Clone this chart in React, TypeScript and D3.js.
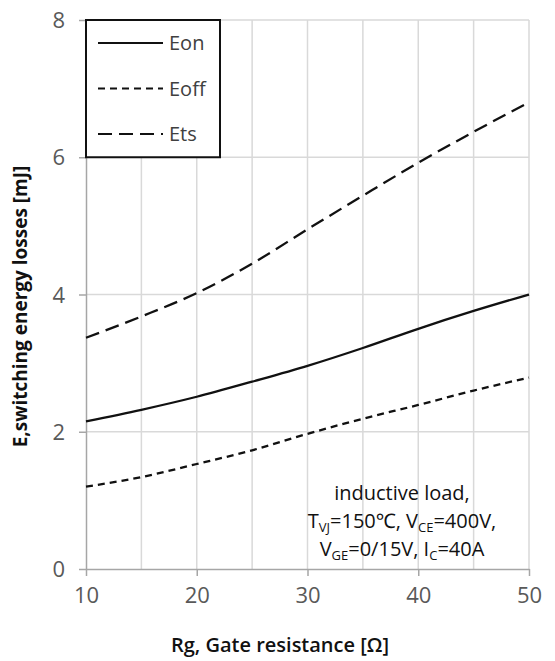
import React, { useEffect, useRef } from "react";
import * as d3 from "d3";

// gate resistance [ohm]
const rg = [10, 15, 20, 25, 30, 35, 40, 45, 50];
// switching energies [mJ]
const eon = [2.15, 2.32, 2.51, 2.73, 2.96, 3.22, 3.5, 3.76, 4.0];
const eoff = [1.2, 1.34, 1.53, 1.73, 1.97, 2.19, 2.39, 2.6, 2.79];
const ets = [3.37, 3.68, 4.02, 4.45, 4.95, 5.44, 5.92, 6.37, 6.8];

const xTicks = [10, 20, 30, 40, 50];
const yTicks = [0, 2, 4, 6, 8];

const series = [
  { name: "Eon", values: eon, dash: "none" },
  { name: "Eoff", values: eoff, dash: "7,5" },
  { name: "Ets", values: ets, dash: "14,7" },
];

export default function App() {
  const ref = useRef<SVGSVGElement>(null);

  useEffect(() => {
    const svg = d3.select(ref.current);
    svg.selectAll("*").remove();

    const m = { left: 86, right: 26, top: 20, bottom: 92 };
    const W = 555, H = 661;
    const x = d3.scaleLinear().domain([10, 50]).range([m.left, W - m.right]);
    const y = d3.scaleLinear().domain([0, 8]).range([H - m.bottom, m.top]);

    const font = "'Open Sans', 'Noto Sans', sans-serif";

    // grid
    svg.append("g").selectAll("line").data(d3.range(15, 51, 5)).join("line")
      .attr("x1", d => x(d)).attr("x2", d => x(d))
      .attr("y1", y(0)).attr("y2", y(8))
      .attr("stroke", "#d9d9d9").attr("stroke-width", 1.5);
    svg.append("g").selectAll("line").data(yTicks.slice(1)).join("line")
      .attr("x1", x(10)).attr("x2", x(50))
      .attr("y1", d => y(d)).attr("y2", d => y(d))
      .attr("stroke", "#d9d9d9").attr("stroke-width", 1.5);

    // axes
    const xAxis = svg.append("g").attr("transform", `translate(0,${y(0)})`)
      .call(d3.axisBottom(x).tickValues(xTicks).tickSize(7).tickPadding(11).tickSizeOuter(0));
    const yAxis = svg.append("g").attr("transform", `translate(${x(10)},0)`)
      .call(d3.axisLeft(y).tickValues(yTicks).tickSize(7).tickPadding(14).tickSizeOuter(0));
    [xAxis, yAxis].forEach(a => {
      a.select(".domain").attr("stroke", "#a6a6a6").attr("stroke-width", 1.5);
      a.selectAll(".tick line").attr("stroke", "#a6a6a6").attr("stroke-width", 1.5);
      a.selectAll("text").attr("fill", "#595959").attr("font-size", 22)
        .attr("font-family", font);
    });
    yAxis.selectAll("text").attr("dy", "0.35em");

    // curves
    const line = d3.line<number>()
      .x((_, i) => x(rg[i]))
      .y(d => y(d))
      .curve(d3.curveMonotoneX);
    svg.append("g").selectAll("path").data(series).join("path")
      .attr("d", d => line(d.values))
      .attr("fill", "none").attr("stroke", "#111")
      .attr("stroke-width", 2.3)
      .attr("stroke-dasharray", d => d.dash);

    // legend
    const lg = svg.append("g");
    lg.append("rect").attr("x", x(10)).attr("y", y(8))
      .attr("width", 134).attr("height", y(6) - y(8))
      .attr("fill", "white").attr("stroke", "#111").attr("stroke-width", 2);
    series.forEach((s, i) => {
      const ly = y(8) + 23 + i * 45.5;
      lg.append("line").attr("x1", 98).attr("x2", 163).attr("y1", ly).attr("y2", ly)
        .attr("stroke", "#111").attr("stroke-width", 2.2)
        .attr("stroke-dasharray", s.dash);
      lg.append("text").attr("x", 169).attr("y", ly).attr("dy", "0.35em")
        .attr("font-size", 20).attr("font-family", font).attr("fill", "#404040")
        .text(s.name);
    });

    // annotation
    const ax = 402;
    const ann = svg.append("g").attr("font-family", font).attr("font-size", 20)
      .attr("fill", "#111").attr("text-anchor", "middle");
    ann.append("text").attr("x", ax).attr("y", 500).text("inductive load,");
    const t2 = ann.append("text").attr("x", ax).attr("y", 528);
    t2.append("tspan").text("T");
    t2.append("tspan").attr("font-size", 13).attr("dy", 4).text("VJ");
    t2.append("tspan").attr("dy", -4).text("=150℃, V");
    t2.append("tspan").attr("font-size", 13).attr("dy", 4).text("CE");
    t2.append("tspan").attr("dy", -4).text("=400V,");
    const t3 = ann.append("text").attr("x", ax).attr("y", 556);
    t3.append("tspan").text("V");
    t3.append("tspan").attr("font-size", 13).attr("dy", 4).text("GE");
    t3.append("tspan").attr("dy", -4).text("=0/15V, I");
    t3.append("tspan").attr("font-size", 13).attr("dy", 4).text("C");
    t3.append("tspan").attr("dy", -4).text("=40A");

    // axis titles
    svg.append("text").attr("x", 280).attr("y", 652)
      .attr("text-anchor", "middle").attr("font-family", font)
      .attr("font-size", 20).attr("font-weight", 600).attr("fill", "#111")
      .text("Rg, Gate resistance [Ω]");
    svg.append("text")
      .attr("transform", `translate(27,${(y(0) + y(8)) / 2 + 12}) rotate(-90)`)
      .attr("text-anchor", "middle").attr("font-family", font)
      .attr("font-size", 19).attr("font-weight", 700).attr("fill", "#111")
      .text("E,switching energy losses [mJ]");
  }, []);

  return (
    <svg ref={ref} width={555} height={661}
      style={{ position: "absolute", left: 0, top: 0, background: "white" }} />
  );
}
